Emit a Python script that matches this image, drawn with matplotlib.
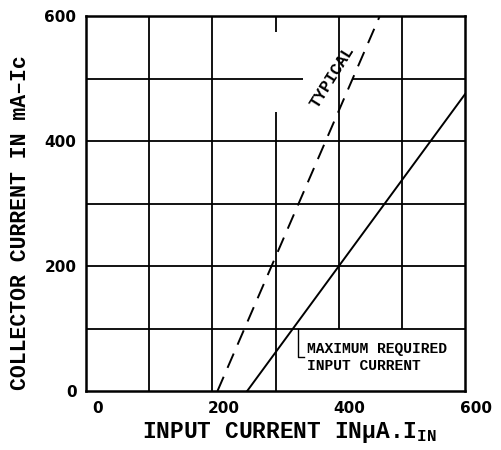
import matplotlib
matplotlib.use("Agg")
import matplotlib.pyplot as plt
import matplotlib.transforms as mtransforms

# --- axis ticks ---
x_ticks = [0, 200, 400, 600]
y_ticks = [0, 200, 400, 600]

# --- curves ---
typical_x = [208, 465]
typical_y = [0, 600]
max_req_x = [255, 600]
max_req_y = [0, 475]

# --- grid segments: (value, start, stop); gaps leave room for the labels ---
v_segments = [(100, 0, 600), (200, 0, 600), (300, 0, 446), (300, 575, 600),
              (400, 100, 600), (500, 100, 600)]
h_segments = [(100, 0, 600), (200, 0, 600), (300, 0, 600), (400, 0, 600),
              (500, 0, 343), (500, 422, 600)]

plt.rcParams['mathtext.fontset'] = 'custom'
plt.rcParams['mathtext.rm'] = 'Liberation Mono:bold'
plt.rcParams['mathtext.it'] = 'Liberation Mono:bold'

MONO = 'Liberation Mono'

fig = plt.figure(figsize=(5.01, 4.5), dpi=100)
ax = fig.add_axes([0.172, 0.131, 0.756, 0.833])

for x, y0, y1 in v_segments:
    ax.plot([x, x], [y0, y1], color='black', lw=1.3, solid_capstyle='butt')
for y, x0, x1 in h_segments:
    ax.plot([x0, x1], [y, y], color='black', lw=1.3, solid_capstyle='butt')

ax.plot(typical_x, typical_y, color='black', lw=1.4, dashes=(8, 5))
ax.plot(max_req_x, max_req_y, color='black', lw=1.4)

ax.text(390, 503, 'TYPICAL', rotation=58, ha='center', va='center',
        family=MONO, fontsize=12, weight='bold')

# bracket pointing to the max-required curve
ax.plot([335, 335, 345], [100, 54, 54], color='black', lw=1)
ax.text(350, 67, 'MAXIMUM REQUIRED', ha='left', va='center',
        family=MONO, fontsize=10.5, weight='bold')
ax.text(350, 40, 'INPUT CURRENT', ha='left', va='center',
        family=MONO, fontsize=10.5, weight='bold')

ax.set_xlim(0, 600)
ax.set_ylim(0, 600)
ax.set_xticks(x_ticks)
ax.set_yticks(y_ticks)
ax.tick_params(length=0, labelsize=11, pad=7)
for lab in ax.get_xticklabels() + ax.get_yticklabels():
    lab.set_fontweight('bold')
for lab in ax.get_xticklabels():
    lab.set_transform(lab.get_transform() +
                      mtransforms.ScaledTranslation(0.11, 0, fig.dpi_scale_trans))
for sp in ax.spines.values():
    sp.set_linewidth(1.8)

ax.set_xlabel('INPUT CURRENT IN\u00b5A.I$_{IN}$', family=MONO, fontsize=16.5, weight='bold')
ax.set_ylabel('COLLECTOR CURRENT IN mA\u2013Ic', family=MONO, fontsize=15.5, weight='bold')
ax.xaxis.set_label_coords(0.537, -0.077)
ax.yaxis.set_label_coords(-0.145, 0.45)

fig.savefig('out.png', dpi=100)
